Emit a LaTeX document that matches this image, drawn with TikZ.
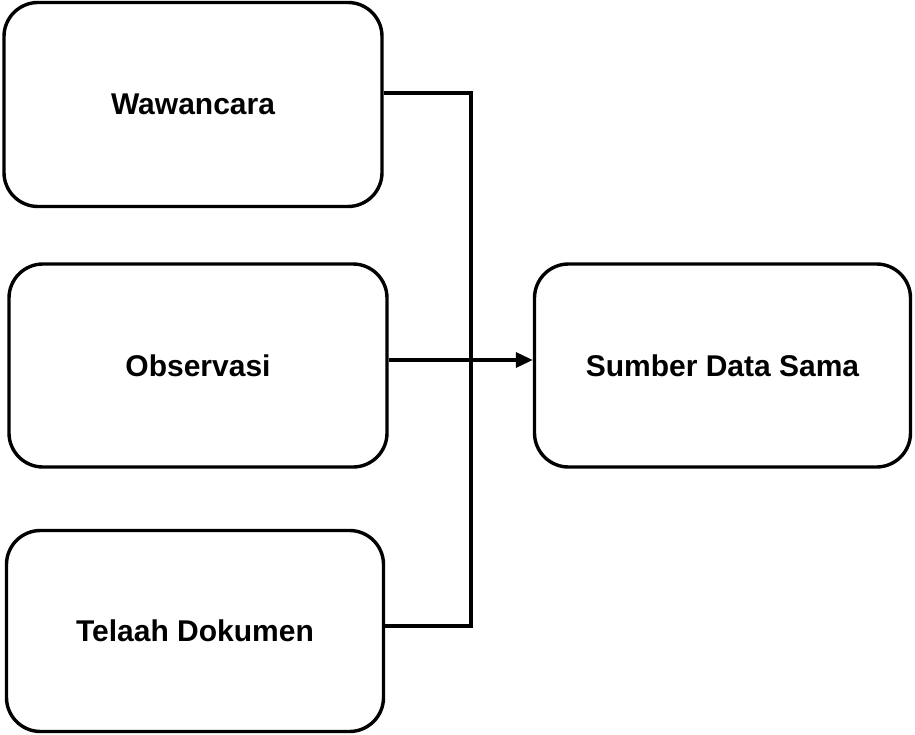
\documentclass[tikz,border=0pt]{standalone}
\usepackage{fontspec}
\setmainfont{Liberation Sans}
\usetikzlibrary{arrows.meta}
\begin{document}
\begin{tikzpicture}[x=1pt,y=-1pt,
  box/.style={draw=black, line width=3.4pt, rounded corners=34pt, align=center,
    font=\fontsize{30}{36}\selectfont\bfseries, inner sep=0pt},
  conn/.style={draw=black, line width=3.4pt}]
\useasboundingbox (0,0) rectangle (915,735);
\node[box, minimum width=378pt, minimum height=204pt] (b1) at (193,104.5) {Wawancara};
\node[box, minimum width=378pt, minimum height=203pt] (b2) at (198,365.5) {Observasi};
\node[box, minimum width=377pt, minimum height=201pt] (b3) at (195,631) {Telaah Dokumen};
\node[box, minimum width=376pt, minimum height=203pt] (b4) at (722.5,365.5) {Sumber Data Sama};
\coordinate (j1) at (471,93);
\coordinate (j3) at (471,626);
\coordinate (ay) at (0,360);
\draw[conn, line join=miter] (b1.east |- j1) -- (j1) -- (j3) -- (b3.east |- j3);
\draw[conn, -{Triangle[length=17pt,width=15pt]}] (b2.east |- ay) -- (b4.west |- ay);
\end{tikzpicture}
\end{document}
